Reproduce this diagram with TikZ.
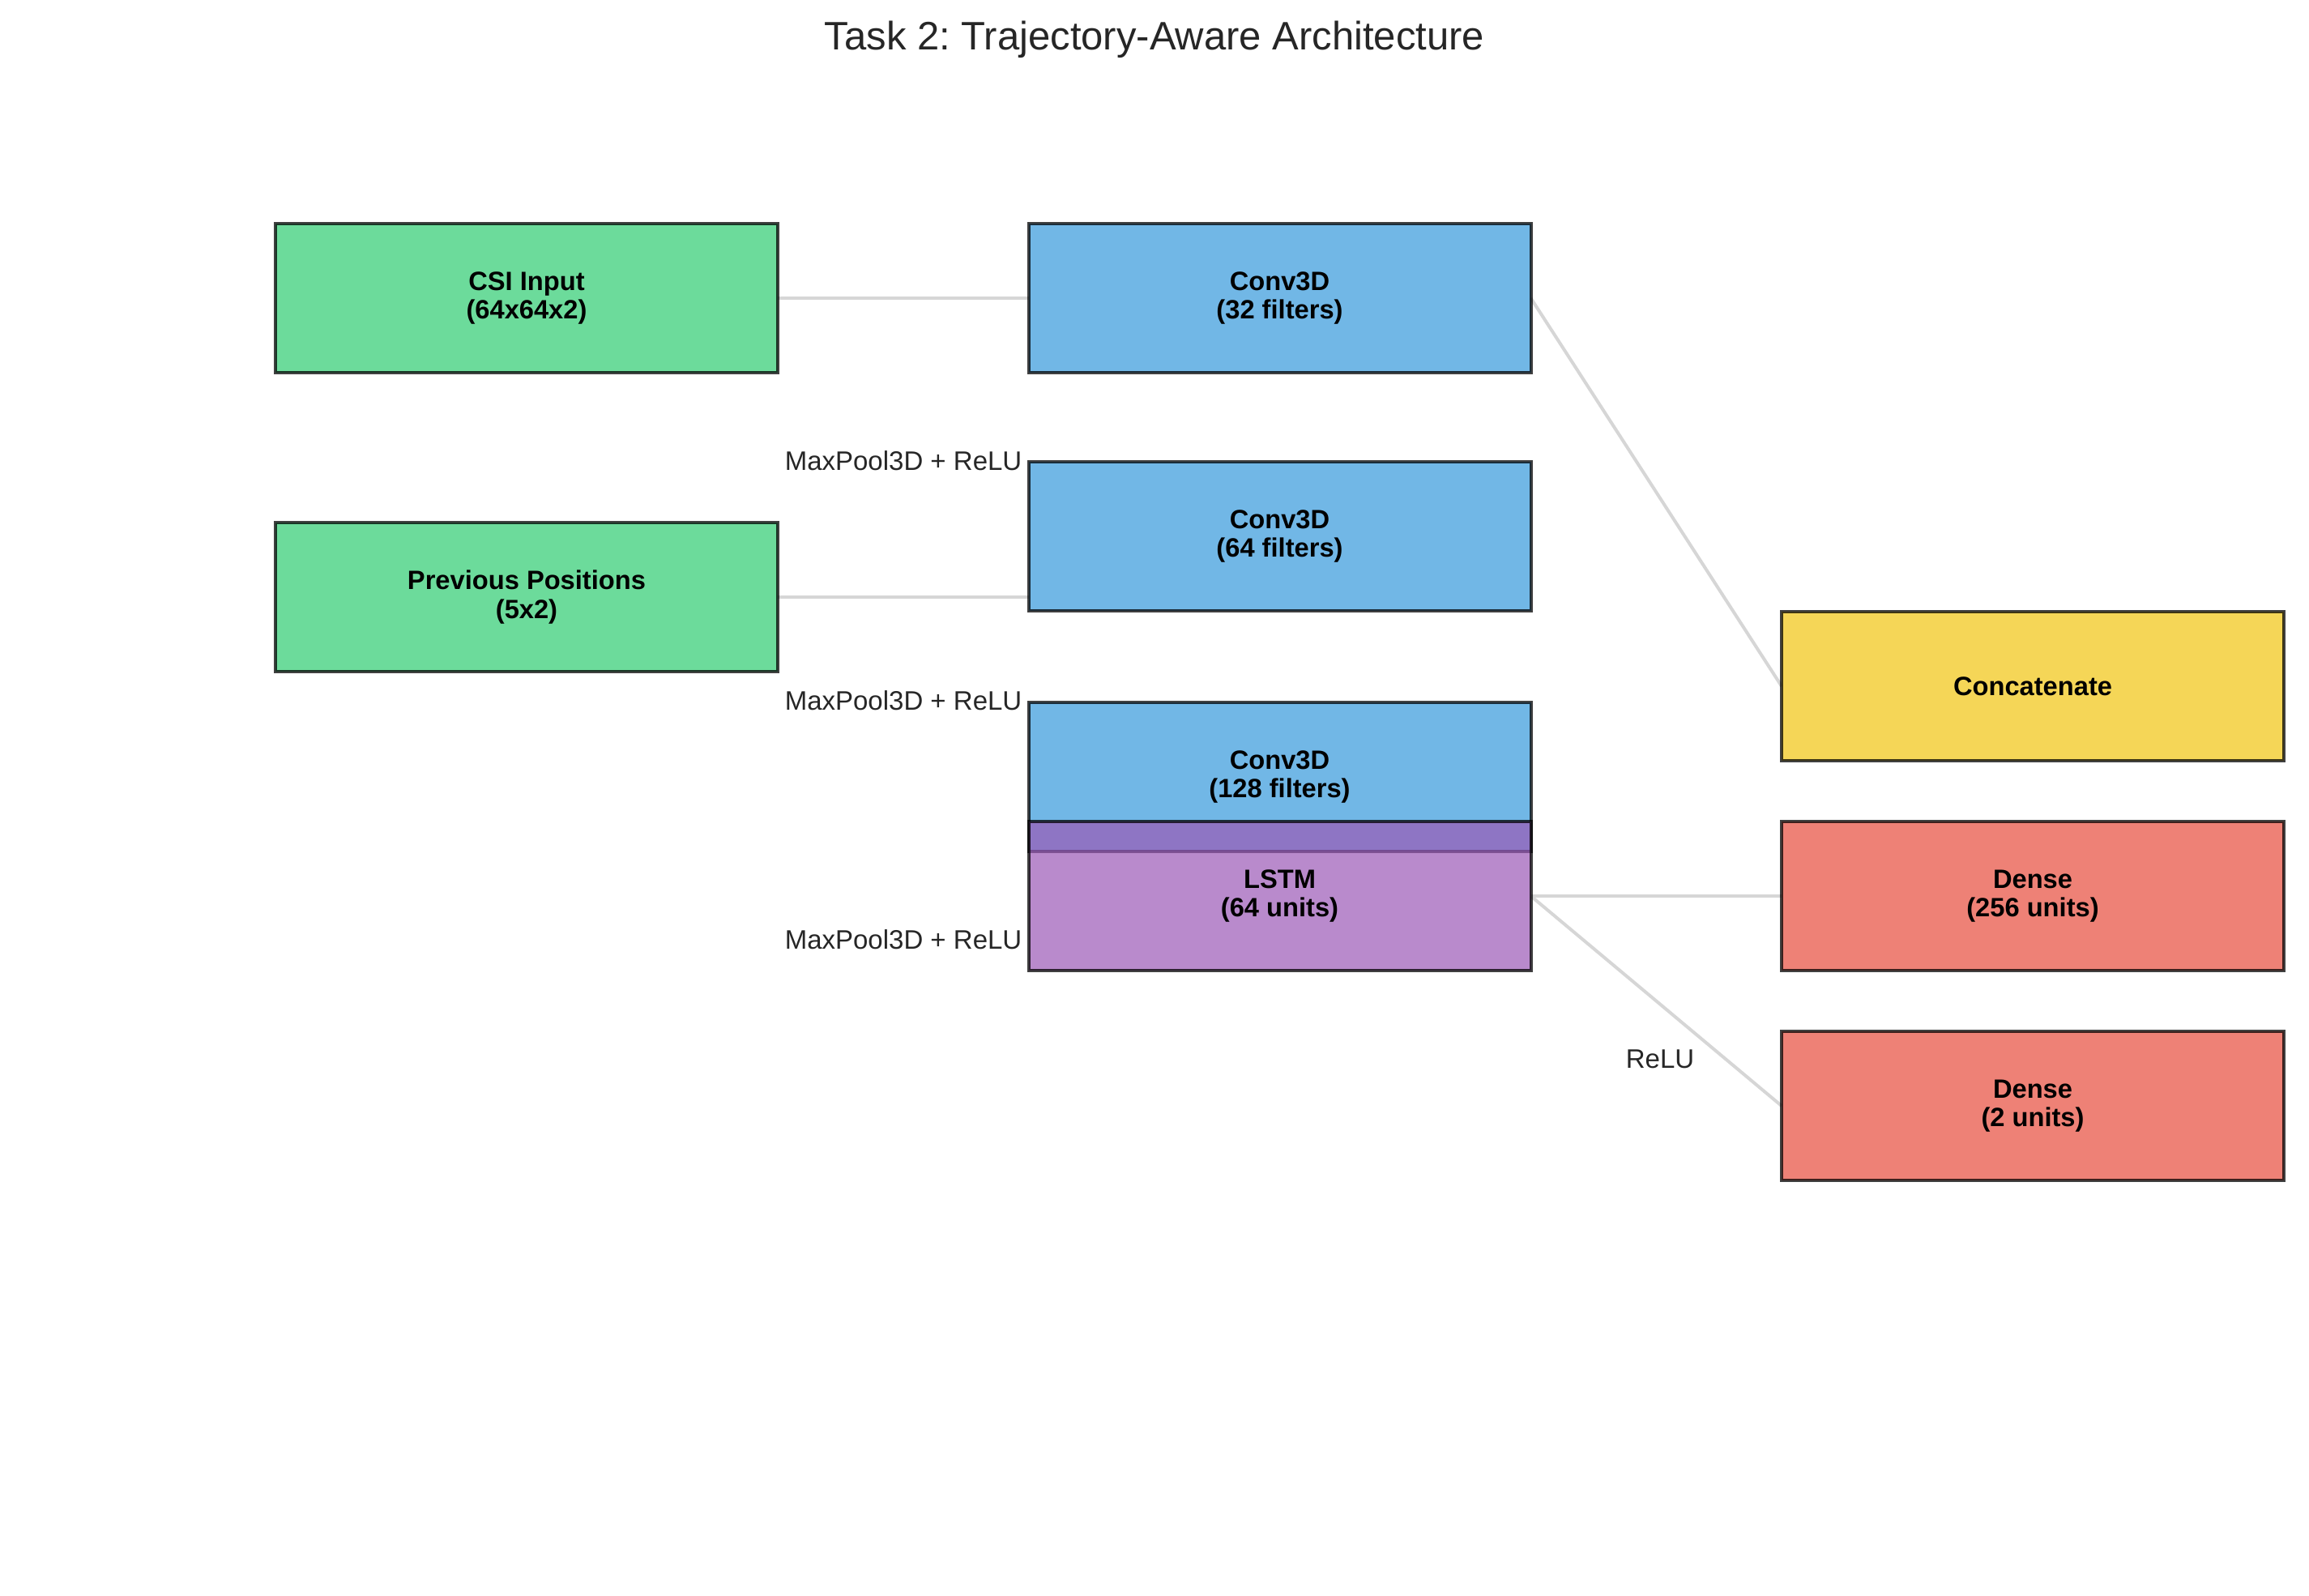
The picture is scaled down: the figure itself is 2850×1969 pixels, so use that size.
\documentclass[tikz,border=0pt]{standalone}
\usepackage{fontspec}
\setmainfont{Liberation Sans}
\frenchspacing
\usetikzlibrary{backgrounds}
\definecolor{cgreen}{HTML}{2ECC71}
\definecolor{cblue}{HTML}{3498DB}
\definecolor{cpurple}{HTML}{9B59B6}
\definecolor{cyellow}{HTML}{F1C40F}
\definecolor{cred}{HTML}{E74C3C}
\definecolor{ctext}{HTML}{262626}
\definecolor{cline}{HTML}{D6D6D6}
\tikzset{
  layerbox/.style={rectangle, draw=black, draw opacity=0.75, fill opacity=0.7, text opacity=1,
    line width=1.2pt, minimum width=186pt, minimum height=55.2pt, inner sep=0pt, outer sep=0pt,
    align=center, text=black, font=\fontsize{9.8}{10.6}\selectfont\bfseries},
  conn/.style={draw=cline, line width=1.2pt},
  oplabel/.style={text=ctext, font=\fontsize{9.9}{11}\selectfont, inner sep=0pt},
}
\begin{document}
\begin{tikzpicture}[x=0.3pt, y=-0.3pt]
\useasboundingbox (0,0) rectangle (2850,1969);
\node[text=ctext, font=\fontsize{14.7}{16}\selectfont] (title) at (1425,49) {Task 2: Trajectory-Aware Architecture};

\node[layerbox, fill=cgreen] (csi) at (650,368) {CSI Input\\(64x64x2)};
\node[layerbox, fill=cgreen] (prev) at (650,737) {Previous Positions\\(5x2)};
\node[layerbox, fill=cblue] (c32) at (1579.5,368) {Conv3D\\(32 filters)};
\node[layerbox, fill=cblue] (c64) at (1579.5,662) {Conv3D\\(64 filters)};
\node[layerbox, fill=cblue] (c128) at (1579.5,959) {Conv3D\\(128 filters)};
\node[layerbox, fill=cpurple] (lstm) at (1579.5,1106) {LSTM\\(64 units)};
\node[layerbox, fill=cyellow] (concat) at (2509,847) {Concatenate};
\node[layerbox, fill=cred] (d256) at (2509,1106) {Dense\\(256 units)};
\node[layerbox, fill=cred] (d2) at (2509,1365) {Dense\\(2 units)};

\node[oplabel, anchor=east] (mp1) at (1262,569) {MaxPool3D + ReLU};
\node[oplabel, anchor=east] (mp2) at (1262,865) {MaxPool3D + ReLU};
\node[oplabel, anchor=east] (mp3) at (1262,1160) {MaxPool3D + ReLU};
\node[oplabel] (relu) at (2049,1307) {ReLU};

\begin{scope}[on background layer]
\draw[conn] (csi.east) -- (c32.west);
\draw[conn] (prev.east) -- (prev.east -| c64.west);
\draw[conn] (c32.east) -- (concat.west);
\draw[conn] (lstm.east) -- (d256.west);
\draw[conn] (lstm.east) -- (d2.west);
\end{scope}
\end{tikzpicture}
\end{document}
